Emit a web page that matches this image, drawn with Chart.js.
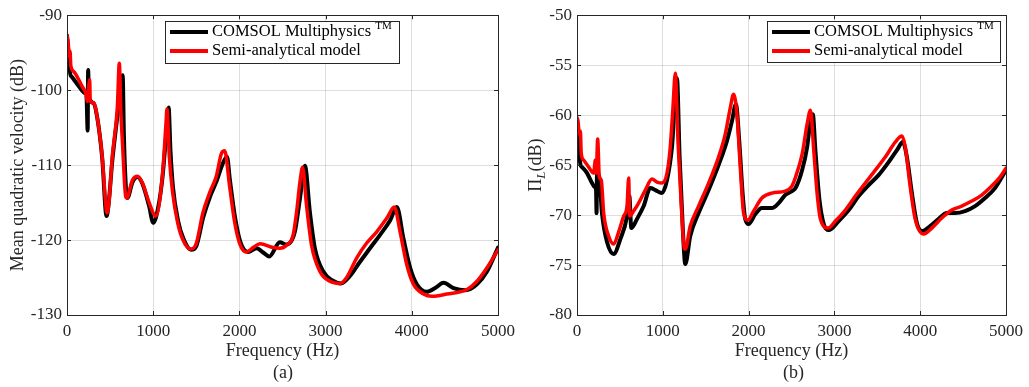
<!DOCTYPE html>
<html>
<head>
<meta charset="utf-8">
<script src="https://cdn.jsdelivr.net/npm/chart.js@4.4.1/dist/chart.umd.min.js"></script>
<style>
  body { margin: 0; background: #fff; width: 1029px; height: 387px; overflow: hidden; position: relative; font-family: 'Liberation Serif', serif; }
  canvas { position: absolute; top: 0; }
  #chartA { left: 0; }
  #chartB { left: 510px; }
  .cap { position: absolute; top: 362px; font-size: 18px; color: #262626; }
</style>
</head>
<body>
<canvas id="chartA" width="530" height="387"></canvas>
<canvas id="chartB" width="519" height="387"></canvas>
<div class="cap" style="left:273px">(a)</div>
<div class="cap" style="left:783px">(b)</div>
<script>
// Axis ticks
const xTicks = [0, 1000, 2000, 3000, 4000, 5000];
const yTicksA = [-130, -120, -110, -100, -90];
const yTicksB = [-80, -75, -70, -65, -60, -55, -50];
const seriesNames = ['COMSOL Multiphysics', 'Semi-analytical model'];

// (a) mean quadratic velocity, COMSOL
const freqComsolA = [0, 19, 39, 54, 120, 209, 225, 240, 245, 255, 306, 350, 408, 459, 480, 525, 584, 625, 646, 660, 681, 700, 759, 817, 875, 953, 1000, 1060, 1109, 1150, 1179, 1200, 1230, 1290, 1350, 1440, 1500, 1580, 1660, 1740, 1800, 1856, 1890, 1950, 2010, 2101, 2198, 2280, 2346, 2469, 2547, 2643, 2702, 2760, 2818, 2876, 2973, 3080, 3178, 3283, 3399, 3515, 3632, 3748, 3826, 3903, 3981, 4058, 4174, 4271, 4368, 4484, 4620, 4756, 4872, 5000];
const velComsolA = [-92.7, -95.3, -97.9, -98.2, -99.2, -100.4, -100.6, -105.4, -97.3, -101.0, -101.7, -103.6, -109.0, -116.8, -115.5, -109.5, -103.5, -99.5, -98.0, -106.0, -112.5, -114.4, -112.3, -111.6, -112.5, -115.5, -117.7, -115.5, -111.5, -106.0, -102.3, -108.0, -113.0, -117.5, -119.8, -121.3, -120.8, -117.0, -114.2, -112.0, -110.0, -108.9, -112.0, -117.0, -120.2, -121.6, -121.1, -121.7, -122.2, -120.3, -120.6, -118.9, -114.5, -110.1, -116.3, -121.1, -124.2, -125.4, -125.8, -124.8, -122.9, -121.1, -119.3, -117.4, -115.6, -119.8, -123.7, -125.9, -126.9, -126.4, -125.7, -126.4, -126.7, -125.9, -124.2, -121.0];

// (a) mean quadratic velocity, semi-analytical
const freqSemiA = [0, 15, 25, 35, 45, 78, 175, 222, 235, 263, 270, 311, 350, 408, 455, 467, 490, 525, 584, 607, 625, 642, 681, 693, 759, 817, 875, 953, 1031, 1109, 1148, 1160, 1187, 1226, 1284, 1342, 1432, 1498, 1576, 1654, 1732, 1790, 1829, 1887, 1946, 2004, 2082, 2160, 2239, 2393, 2469, 2547, 2624, 2663, 2702, 2733, 2779, 2837, 2934, 3050, 3167, 3244, 3360, 3477, 3593, 3709, 3798, 3864, 3942, 4019, 4136, 4233, 4407, 4640, 4756, 4872, 5000];
const velSemiA = [-92.7, -93.8, -95.5, -94.8, -96.8, -97.5, -99.5, -100.6, -101.5, -98.6, -101.5, -101.7, -103.6, -108.9, -115.9, -116.4, -114.5, -108.9, -102.3, -96.4, -103.0, -106.7, -114.2, -114.4, -112.0, -111.5, -112.4, -115.0, -116.8, -111.1, -104.5, -102.5, -108.9, -113.7, -117.7, -119.9, -121.2, -120.5, -116.4, -113.7, -111.5, -108.5, -108.1, -112.9, -117.7, -120.5, -121.6, -121.0, -120.5, -121.0, -121.1, -120.7, -119.3, -116.3, -112.3, -110.3, -115.4, -120.7, -124.2, -125.5, -125.8, -125.0, -122.4, -120.4, -118.9, -117.1, -115.6, -118.9, -123.3, -125.9, -127.2, -127.5, -127.2, -126.6, -125.5, -123.7, -121.3];

// (b) Pi_L, COMSOL
const freqComsolB = [0, 19, 39, 58, 117, 175, 206, 222, 228, 233, 260, 291, 350, 427, 505, 583, 610, 633, 699, 777, 854, 913, 990, 1049, 1107, 1165, 1196, 1235, 1262, 1320, 1417, 1534, 1650, 1747, 1806, 1852, 1891, 1930, 1961, 2000, 2078, 2155, 2272, 2350, 2427, 2505, 2547, 2624, 2682, 2721, 2748, 2779, 2826, 2876, 2934, 3050, 3167, 3283, 3399, 3515, 3632, 3729, 3798, 3845, 3903, 3961, 4019, 4116, 4213, 4310, 4407, 4523, 4640, 4756, 4872, 5000];
const powComsolB = [-60.6, -62.6, -64.9, -65.2, -65.8, -66.8, -67.2, -67.5, -69.8, -65.8, -66.2, -69.8, -72.7, -73.9, -72.4, -70.1, -68.1, -71.3, -70.4, -69.1, -67.3, -67.5, -67.8, -66.5, -63.2, -56.3, -64.2, -71.7, -74.9, -72.1, -69.8, -67.5, -65.0, -62.6, -60.6, -58.9, -62.6, -67.8, -70.4, -70.9, -69.9, -69.3, -69.3, -68.8, -68.0, -67.6, -67.3, -65.5, -63.2, -60.6, -59.9, -63.6, -68.5, -70.9, -71.5, -70.6, -69.5, -68.1, -67.0, -66.0, -64.7, -63.5, -62.7, -64.2, -67.8, -70.8, -71.6, -71.1, -70.4, -69.8, -69.8, -69.6, -69.1, -68.3, -67.3, -65.5];

// (b) Pi_L, semi-analytical
const freqSemiB = [0, 12, 27, 39, 50, 78, 136, 194, 214, 225, 241, 260, 283, 311, 369, 427, 485, 544, 583, 602, 614, 660, 718, 796, 874, 932, 990, 1049, 1087, 1118, 1146, 1177, 1216, 1254, 1262, 1320, 1417, 1534, 1650, 1728, 1786, 1825, 1864, 1903, 1942, 1992, 2058, 2155, 2272, 2427, 2505, 2547, 2624, 2682, 2721, 2760, 2798, 2837, 2926, 3012, 3128, 3244, 3360, 3477, 3593, 3709, 3787, 3826, 3884, 3942, 4039, 4136, 4252, 4368, 4484, 4601, 4717, 4833, 4930, 5000];
const powSemiB = [-60.25, -60.6, -61.9, -61.6, -63.9, -64.5, -65.2, -65.8, -64.5, -65.8, -62.4, -66.2, -66.5, -69.8, -72.1, -72.9, -71.7, -70.1, -69.1, -66.3, -70.1, -69.6, -68.8, -67.5, -66.4, -66.7, -66.8, -65.8, -63.2, -59.3, -55.8, -62.6, -69.1, -73.4, -73.4, -71.1, -69.1, -66.8, -64.2, -61.9, -59.3, -57.9, -59.9, -65.2, -69.8, -70.5, -69.6, -68.3, -67.8, -67.6, -67.1, -66.2, -63.9, -60.9, -59.5, -63.6, -67.8, -70.4, -71.3, -70.6, -69.5, -68.1, -66.8, -65.5, -64.2, -62.7, -62.1, -63.2, -67.2, -70.4, -71.9, -71.3, -70.3, -69.5, -69.1, -68.6, -68.0, -67.1, -66.2, -65.3];

const toPoints = (xs, ys) => xs.map((x, i) => ({ x: x, y: ys[i] }));
const axisColor = '#262626';
const serif = "'Liberation Serif', serif";

// box around the axes with inward ticks, and the legend
const boxPlugin = {
  id: 'matlabBox',
  afterDatasetsDraw(chart, args, opts) {
    const { ctx, chartArea: a, scales } = chart;
    ctx.save();
    ctx.strokeStyle = axisColor;
    ctx.lineWidth = 1;
    ctx.beginPath();
    scales.x.ticks.forEach(t => {
      const px = Math.round(scales.x.getPixelForValue(t.value)) + 0.5;
      ctx.moveTo(px, a.bottom); ctx.lineTo(px, a.bottom - 4);
      ctx.moveTo(px, a.top); ctx.lineTo(px, a.top + 4);
    });
    scales.y.ticks.forEach(t => {
      const py = Math.round(scales.y.getPixelForValue(t.value)) + 0.5;
      ctx.moveTo(a.left, py); ctx.lineTo(a.left + 4, py);
      ctx.moveTo(a.right, py); ctx.lineTo(a.right - 4, py);
    });
    ctx.stroke();
    ctx.strokeRect(Math.round(a.left) + 0.5, Math.round(a.top) + 0.5, Math.round(a.right - a.left), Math.round(a.bottom - a.top));

    // legend
    const lg = opts.legend;
    ctx.fillStyle = '#fff';
    ctx.fillRect(lg.x, lg.y, lg.w, lg.h);
    ctx.strokeRect(lg.x + 0.5, lg.y + 0.5, lg.w, lg.h);
    chart.data.datasets.forEach((ds, i) => {
      const cy = lg.y + 11 + i * 19;
      ctx.strokeStyle = ds.borderColor;
      ctx.lineWidth = 4;
      ctx.beginPath();
      ctx.moveTo(lg.x + 5, cy); ctx.lineTo(lg.x + 43, cy);
      ctx.stroke();
      ctx.fillStyle = '#000';
      ctx.font = '16.5px ' + serif;
      ctx.textBaseline = 'middle';
      ctx.fillText(ds.label, lg.x + 47, cy);
      if (ds.sup) {
        const w = ctx.measureText(ds.label + ' ').width;
        ctx.font = '11px ' + serif;
        ctx.fillText(ds.sup, lg.x + 47 + w, cy - 6);
      }
    });

    // rotated y title with subscript
    if (opts.yTitle) {
      const t = opts.yTitle;
      ctx.translate(t.x, (a.top + a.bottom) / 2);
      ctx.rotate(-Math.PI / 2);
      ctx.fillStyle = axisColor;
      ctx.textBaseline = 'alphabetic';
      ctx.font = '18px ' + serif;
      const w1 = ctx.measureText(t.main).width;
      const w3 = ctx.measureText(t.after).width;
      ctx.font = 'italic 13px ' + serif;
      const w2 = ctx.measureText(t.sub).width;
      let x = -(w1 + w2 + w3) / 2;
      ctx.font = '18px ' + serif;
      ctx.fillText(t.main, x, 6);
      x += w1;
      ctx.font = 'italic 13px ' + serif;
      ctx.fillText(t.sub, x, 10);
      x += w2;
      ctx.font = '18px ' + serif;
      ctx.fillText(t.after, x, 6);
    }
    ctx.restore();
  }
};

function makeChart(id, comsol, semi, yMin, yMax, yTicks, yTitle, rightPad, boxOpts) {
  return new Chart(document.getElementById(id), {
    type: 'line',
    data: {
      datasets: [
        { label: seriesNames[0], sup: 'TM', data: comsol, borderColor: '#000000', borderWidth: 4, order: 2 },
        { label: seriesNames[1], data: semi, borderColor: '#ff0000', borderWidth: 3.5, order: 1 }
      ]
    },
    options: {
      responsive: false,
      animation: false,
      parsing: false,
      layout: { padding: { left: 0, top: 11, right: rightPad, bottom: 0 } },
      elements: {
        point: { radius: 0 },
        line: { cubicInterpolationMode: 'monotone', borderCapStyle: 'round', borderJoinStyle: 'round' }
      },
      plugins: {
        legend: { display: false },
        tooltip: { enabled: false },
        matlabBox: boxOpts
      },
      scales: {
        x: {
          type: 'linear', min: 0, max: 5000,
          afterBuildTicks: s => { s.ticks = xTicks.map(v => ({ value: v })); },
          afterFit: s => { s.height = 72; },
          grid: { color: 'rgba(0,0,0,0.13)', drawTicks: false },
          border: { display: false },
          ticks: { color: axisColor, padding: 6, maxRotation: 0, font: { family: serif, size: 17 }, callback: v => String(v) },
          title: { display: true, text: 'Frequency (Hz)', color: axisColor, font: { family: serif, size: 18 }, padding: { top: 0, bottom: 25 } }
        },
        y: {
          type: 'linear', min: yMin, max: yMax,
          afterBuildTicks: s => { s.ticks = yTicks.map(v => ({ value: v })); },
          afterFit: s => { s.width = 67; },
          grid: { color: 'rgba(0,0,0,0.13)', drawTicks: false },
          border: { display: false },
          ticks: { color: axisColor, padding: 5, font: { family: serif, size: 17 }, callback: v => String(v) },
          title: { display: !!yTitle, text: yTitle, color: axisColor, font: { family: serif, size: 18 }, padding: { top: 7, bottom: 0 } }
        }
      }
    },
    plugins: [boxPlugin]
  });
}

makeChart('chartA', toPoints(freqComsolA, velComsolA), toPoints(freqSemiA, velSemiA),
  -130, -90, yTicksA, 'Mean quadratic velocity (dB)', 32,
  { legend: { x: 165, y: 21, w: 234, h: 42 } });

makeChart('chartB', toPoints(freqComsolB, powComsolB), toPoints(freqSemiB, powSemiB),
  -80, -50, yTicksB, '', 21,
  { legend: { x: 257, y: 21, w: 233, h: 41 }, yTitle: { x: 25, main: 'Π', sub: 'L', after: '(dB)' } });
</script>
</body>
</html>
